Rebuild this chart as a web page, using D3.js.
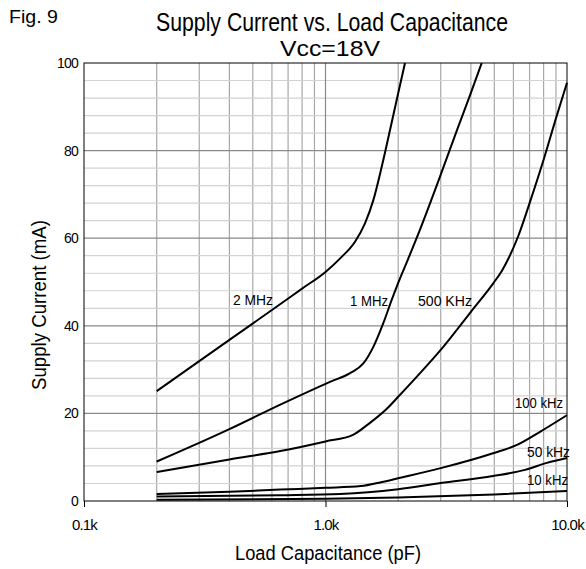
<!DOCTYPE html>
<html>
<head>
<meta charset="utf-8">
<script src="https://cdn.jsdelivr.net/npm/d3@7"></script>
<style>
  html, body { margin: 0; padding: 0; background: #fff; }
  svg { display: block; font-family: "Liberation Sans", Arial, sans-serif; }
</style>
</head>
<body>
<svg id="chart" width="586" height="569"></svg>
<script>
// ---------- data ----------
const seriesNames = ["2 MHz", "1 MHz", "500 KHz", "100 kHz", "50 kHz", "10 kHz"];

const cap2MHz = [200, 400, 600, 800, 1000, 1150, 1325, 1457, 1578, 1709, 1850, 2000, 2134];
const cur2MHz = [25.1, 36.8, 43.6, 48.5, 52.3, 55.4, 59.2, 63.4, 68.7, 76.3, 84.7, 93.1, 100];

const cap1MHz = [200, 400, 650, 1044, 1264, 1434, 1578, 1735, 1880, 2000, 2200, 2460, 3000, 3494, 4000, 4435];
const cur1MHz = [9.0, 16.4, 22.0, 27.2, 29.2, 31.4, 35.2, 40.6, 45.9, 49.8, 55.3, 61.9, 74.5, 84.5, 93.2, 100];

const cap500k = [200, 400, 650, 1000, 1300, 1500, 1790, 2000, 2390, 3000, 4000, 4950, 5370, 5715, 6285, 7000, 8000, 9040, 10000];
const cur500k = [6.6, 9.5, 11.4, 13.6, 15.1, 17.5, 21.0, 23.8, 28.4, 34.5, 43.2, 49.7, 52.5, 55.3, 60.5, 68.0, 77.9, 87.7, 95.5];

const cap100k = [200, 400, 650, 1000, 1400, 1700, 2000, 3000, 4940, 6210, 7730, 10000];
const cur100k = [1.6, 2.1, 2.6, 3.0, 3.4, 4.3, 5.2, 7.5, 10.9, 12.8, 15.8, 19.6];

const cap50k = [200, 650, 1150, 1500, 2000, 3000, 4940, 6700, 8260, 10000];
const cur50k = [1.0, 1.3, 1.6, 2.0, 2.7, 4.1, 5.7, 7.1, 8.7, 9.8];

const cap10k = [200, 1000, 2000, 5000, 10000];
const cur10k = [0.3, 0.5, 0.8, 1.5, 2.3];

const xTickValues = [100, 1000, 10000];
const xTickLabels = ["0.1k", "1.0k", "10.0k"];
const yTickValues = [0, 20, 40, 60, 80, 100];

// label anchors in data units (capacitance pF, current mA)
const labelCap = [414, 1263, 2415, 6091, 6830, 6830];
const labelCur = [45.9, 45.7, 45.7, 22.4, 11.2, 4.8];

// ---------- layout ----------
const L = 84, R = 567, T = 63, B = 501;
const svg = d3.select("#chart");

const x = d3.scaleLog().domain([100, 10000]).range([L, R]);
const y = d3.scaleLinear().domain([0, 100]).range([B, T]);

// grid
const vMinor = [];
[100, 1000].forEach(d => { for (let k = 2; k <= 9; k++) vMinor.push(d * k); });
svg.append("g").selectAll("line").data(vMinor).join("line")
  .attr("x1", d => x(d)).attr("x2", d => x(d))
  .attr("y1", T).attr("y2", B)
  .attr("stroke", "#a8a8a8").attr("stroke-width", 1.2);

const hMinor = d3.range(4, 100, 4).filter(v => v % 20 !== 0);
svg.append("g").selectAll("line").data(hMinor).join("line")
  .attr("x1", L).attr("x2", R)
  .attr("y1", d => y(d)).attr("y2", d => y(d))
  .attr("stroke", "#d2d2d2").attr("stroke-width", 1.2);

svg.append("g").selectAll("line").data([20, 40, 60, 80]).join("line")
  .attr("x1", L).attr("x2", R)
  .attr("y1", d => y(d)).attr("y2", d => y(d))
  .attr("stroke", "#8a8a8a").attr("stroke-width", 1.2);

svg.append("line").attr("x1", x(1000)).attr("x2", x(1000)).attr("y1", T).attr("y2", B)
  .attr("stroke", "#8a8a8a").attr("stroke-width", 1.2);

// frame
svg.append("rect").attr("x", L).attr("y", T).attr("width", R - L).attr("height", B - T)
  .attr("fill", "none").attr("stroke", "#000").attr("stroke-width", 1);

// axes
const xAxis = d3.axisBottom(x).tickValues(xTickValues)
  .tickFormat((d, i) => xTickLabels[i]).tickSize(6).tickPadding(12);
const gx = svg.append("g").attr("transform", `translate(0,${B})`).call(xAxis);
gx.select(".domain").remove();
gx.selectAll("text").attr("font-size", 15).attr("fill", "#000").attr("font-family", "Liberation Sans, Arial, sans-serif").attr("letter-spacing", -0.8);
gx.selectAll("line").attr("stroke", "#000");

const yAxis = d3.axisLeft(y).tickValues(yTickValues).tickSize(0).tickPadding(6);
const gy = svg.append("g").attr("transform", `translate(${L},0)`).call(yAxis);
gy.select(".domain").remove();
gy.selectAll("text").attr("font-size", 14).attr("fill", "#000").attr("font-family", "Liberation Sans, Arial, sans-serif").attr("letter-spacing", -0.8);

// curves
const series = [
  [cap2MHz, cur2MHz], [cap1MHz, cur1MHz], [cap500k, cur500k],
  [cap100k, cur100k], [cap50k, cur50k], [cap10k, cur10k]
];
const line = d3.line().x(d => x(d[0])).y(d => y(d[1])).curve(d3.curveMonotoneX);
svg.append("defs").append("clipPath").attr("id", "clip")
  .append("rect").attr("x", L).attr("y", T - 1).attr("width", R - L + 1).attr("height", B - T + 1);
svg.append("g").attr("clip-path", "url(#clip)").selectAll("path")
  .data(series.map(([c, v]) => c.map((cc, i) => [cc, v[i]])))
  .join("path")
  .attr("d", line)
  .attr("fill", "none").attr("stroke", "#000").attr("stroke-width", 2);

// curve labels
const labelLen = [40, 38, 54, 48, 43, 41];
svg.append("g").selectAll("text").data(seriesNames).join("text")
  .attr("x", (d, i) => x(labelCap[i]))
  .attr("y", (d, i) => y(labelCur[i]))
  .attr("dominant-baseline", "central")
  .attr("font-size", 15)
  .attr("textLength", (d, i) => labelLen[i])
  .attr("lengthAdjust", "spacingAndGlyphs")
  .text(d => d);

// titles
svg.append("text").attr("x", 9).attr("y", 23).attr("font-size", 18)
  .attr("textLength", 49).attr("lengthAdjust", "spacingAndGlyphs").text("Fig. 9");
svg.append("text").attr("x", 332).attr("y", 31).attr("text-anchor", "middle")
  .attr("font-size", 25).attr("textLength", 352).attr("lengthAdjust", "spacingAndGlyphs")
  .text("Supply Current vs. Load Capacitance");
svg.append("text").attr("x", 330).attr("y", 56).attr("text-anchor", "middle")
  .attr("font-size", 22).attr("textLength", 100).attr("lengthAdjust", "spacingAndGlyphs")
  .text("Vcc=18V");

svg.append("text").attr("x", 328).attr("y", 560).attr("text-anchor", "middle")
  .attr("font-size", 20).attr("textLength", 186).attr("lengthAdjust", "spacingAndGlyphs")
  .text("Load Capacitance (pF)");
svg.append("text").attr("transform", "translate(46,305) rotate(-90)").attr("text-anchor", "middle")
  .attr("font-size", 20).attr("textLength", 170).attr("lengthAdjust", "spacingAndGlyphs")
  .text("Supply Current (mA)");
</script>
</body>
</html>
